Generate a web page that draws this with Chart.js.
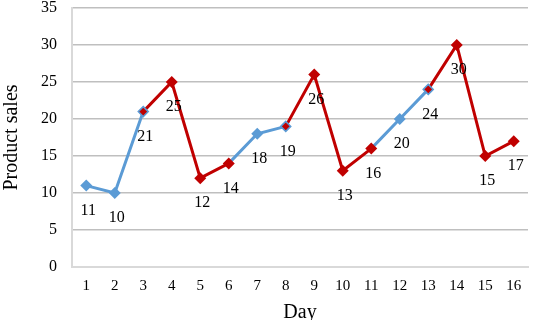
<!DOCTYPE html>
<html>
<head>
<meta charset="utf-8">
<script src="https://cdn.jsdelivr.net/npm/chart.js@4/dist/chart.umd.min.js"></script>
<style>
  html, body { margin: 0; padding: 0; background: #fff; overflow: hidden; }
</style>
</head>
<body>
<canvas id="myChart" width="534" height="320"></canvas>
<script>
const days = ['1', '2', '3', '4', '5', '6', '7', '8', '9', '10', '11', '12', '13', '14', '15', '16'];
const sales = [11, 10, 21, 25, 12, 14, 18, 19, 26, 13, 16, 20, 24, 30, 15, 17];
// segments (index of start point) drawn in blue, the rest red
const blueSegments = [0, 1, 5, 6, 10, 11];
// marker kinds; 'mix' = small red marker with blue edge
const pointKinds = ['blue', 'blue', 'mix', 'red', 'red', 'red', 'blue', 'mix', 'red', 'red', 'red', 'blue', 'mix', 'red', 'red', 'red'];

const BLUE = '#5b9bd5';
const RED = '#c00000';
const serif = "'Liberation Serif', 'Times New Roman', serif";

const labelPlugin = {
    id: 'valueLabels',
    afterDatasetsDraw(chart) {
        let c = chart.ctx;
        let meta = chart.getDatasetMeta(0);
        c.save();
        c.font = '16px ' + serif;
        c.fillStyle = '#000';
        c.textAlign = 'center';
        c.textBaseline = 'middle';
        meta.data.forEach(function(pt, i) {
            c.fillText(String(sales[i]), pt.x + 2, pt.y + 25);
        });
        c.restore();
    }
};

const ctx = document.getElementById('myChart');
let myChart = new Chart(ctx, {
    type: 'line',
    data: {
        labels: days,
        datasets: [{
            data: sales,
            borderWidth: 3,
            borderColor: RED,
            segment: {
                borderColor: function(s) {
                    return blueSegments.includes(s.p0DataIndex) ? BLUE : RED;
                }
            },
            tension: 0,
            pointStyle: 'rectRot',
            pointRadius: pointKinds.map(k => k === 'mix' ? 5 : 6),
            pointBackgroundColor: pointKinds.map(k => k === 'blue' ? BLUE : RED),
            pointBorderColor: pointKinds.map(k => k === 'red' ? RED : BLUE),
            pointBorderWidth: pointKinds.map(k => k === 'mix' ? 1.5 : 0)
        }]
    },
    options: {
        responsive: false,
        animation: false,
        devicePixelRatio: 1,
        layout: { padding: { left: 0, right: 0, top: 8, bottom: -9 } },
        plugins: {
            legend: { display: false },
            tooltip: { enabled: false }
        },
        scales: {
            x: {
                offset: true,
                grid: { display: false, drawTicks: false },
                border: { color: '#d9d9d9', width: 2 },
                ticks: { color: '#000', padding: 10, maxRotation: 0, autoSkip: false, font: { family: serif, size: 15 } },
                title: {
                    display: true, text: 'Day', color: '#000',
                    font: { family: serif, size: 20 }, padding: { top: -4, bottom: 4 }
                }
            },
            y: {
                min: 0,
                max: 35,
                afterFit: function(scale) {
                    scale.paddingTop = 0;
                    scale.paddingBottom = 0;
                },
                grid: { color: '#bfbfbf', lineWidth: 1.5, drawTicks: false },
                border: { color: '#d9d9d9', width: 2 },
                ticks: { stepSize: 5, color: '#000', padding: 15, font: { family: serif, size: 16 } },
                title: {
                    display: true, text: 'Product sales', color: '#000',
                    font: { family: serif, size: 20 }, padding: { top: 0, bottom: 2 }
                }
            }
        }
    },
    plugins: [labelPlugin]
});
</script>
</body>
</html>
